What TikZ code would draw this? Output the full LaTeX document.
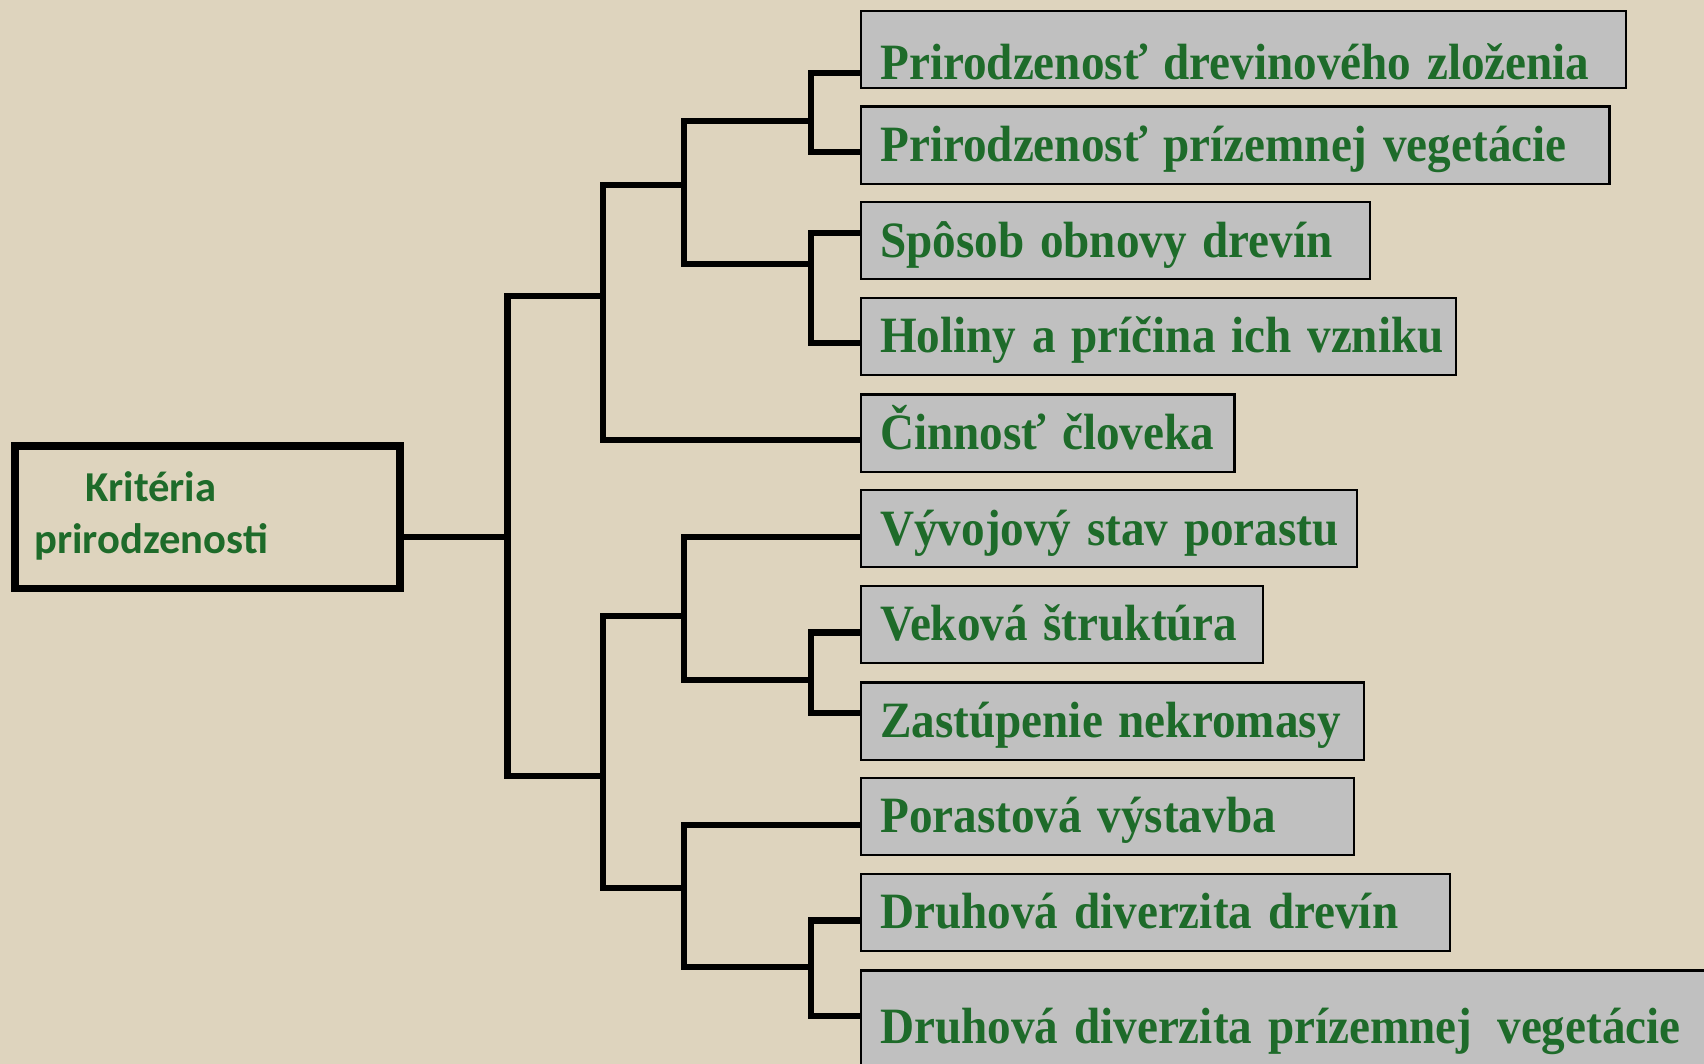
\documentclass[tikz,border=0pt]{standalone}
\usepackage{fontspec}
\setmainfont{Liberation Serif}
\newfontfamily\calibrifont{Carlito}
\usepackage{graphicx}
\usepackage{tikz}
\usetikzlibrary{calc}
\definecolor{linen}{RGB}{222,212,190}
\definecolor{critgray}{RGB}{192,192,192}
\definecolor{critgreen}{RGB}{30,107,42}
\newcommand{\tall}[1]{\scalebox{1}[1.08]{#1}}

\begin{document}
\begin{tikzpicture}[x=0.5pt, y=-0.5pt,
    crit/.style={draw=black, line width=1pt, fill=critgray, anchor=north west,
        outer sep=0pt, inner xsep=9pt, inner ysep=0pt, minimum height=35.5pt,
        align=left, text width=#1, text height=19pt, text depth=4pt,
        text=critgreen, font=\bfseries\fontsize{21.7}{26}\selectfont},
    rootbox/.style={draw=black, line width=3.6pt, anchor=north west, outer sep=0pt,
        minimum width=177.25pt, minimum height=65.5pt, inner xsep=9pt,
        text width=159.25pt, align=left, text=critgreen,
        font=\calibrifont\bfseries\fontsize{19.6}{24}\selectfont},
    conn/.style={line width=2.8pt}]
    \useasboundingbox (0,0) rectangle (1568,979);
    \clip (0,0) rectangle (1568,979);
    \fill[linen] (0,0) rectangle (1568,979);

    \node[rootbox] (root) at (13.5,410.5) {\begin{tabular}{@{}c@{}}Kritéria\\prirodzenosti\end{tabular}};

    \node[crit=334pt, text height=28pt, text depth=0pt] (b1) at (792,10) {\tall{Prirodzenosť drevinového zloženia}};
    \node[crit=326.5pt] (b2) at (792,98) {\tall{Prirodzenosť prízemnej vegetácie}};
    \node[crit=216.5pt] (b3) at (792,186) {\tall{Spôsob obnovy drevín}};
    \node[crit=256pt] (b4) at (792,274) {\tall{Holiny a príčina ich vzniku}};
    \node[crit=154pt] (b5) at (792,363) {\tall{Činnosť človeka}};
    \node[crit=210.5pt] (b6) at (792,451) {\tall{Vývojový stav porastu}};
    \node[crit=167pt] (b7) at (792,539) {\tall{Veková štruktúra}};
    \node[crit=213.5pt] (b8) at (792,628) {\tall{Zastúpenie nekromasy}};
    \node[crit=209pt] (b9) at (792,716) {\tall{Porastová výstavba}};
    \node[crit=253pt] (b10) at (792,804) {\tall{Druhová diverzita drevín}};
    \node[crit=396pt, minimum height=52pt] (b11) at (792,893) {\tall{Druhová diverzita prízemnej\kern0.2em{} vegetácie}};

    % junctions of the tree
    \coordinate (kA) at (746,111);
    \coordinate (kB) at (746,243);
    \coordinate (kC) at (629,170);
    \coordinate (kD) at (555,272);
    \coordinate (kE) at (746,626);
    \coordinate (kF) at (629,567);
    \coordinate (kG) at (746,890);
    \coordinate (kH) at (629,817);
    \coordinate (kI) at (555,714);
    \coordinate (kJ) at (467,494.5);

    \draw[conn] ($(b1.west)+(0,21.5)$) -| (kA) |- ($(b2.west)+(0,6.5)$);
    \draw[conn] ($(b3.west)+(0,-7.5)$) -| (kB) |- ($(b4.west)+(0,6.5)$);
    \draw[conn] (kA) -| (kC) |- (kB);
    \draw[conn] (kC) -| (kD) |- ($(b5.west)+(0,6.5)$);
    \draw[conn] ($(b7.west)+(0,7.5)$) -| (kE) |- ($(b8.west)+(0,-7.5)$);
    \draw[conn] ($(b6.west)+(0,7.5)$) -| (kF) |- (kE);
    \draw[conn] ($(b10.west)+(0,7.5)$) -| (kG) |- ($(b11.west)+(0,-10)$);
    \draw[conn] ($(b9.west)+(0,7.5)$) -| (kH) |- (kG);
    \draw[conn] (kF) -| (kI) |- (kH);
    \draw[conn] (kD) -| (kJ) |- (kI);
    \draw[conn] ($(root.east)+(0,18.5)$) -- (kJ);
\end{tikzpicture}
\end{document}
